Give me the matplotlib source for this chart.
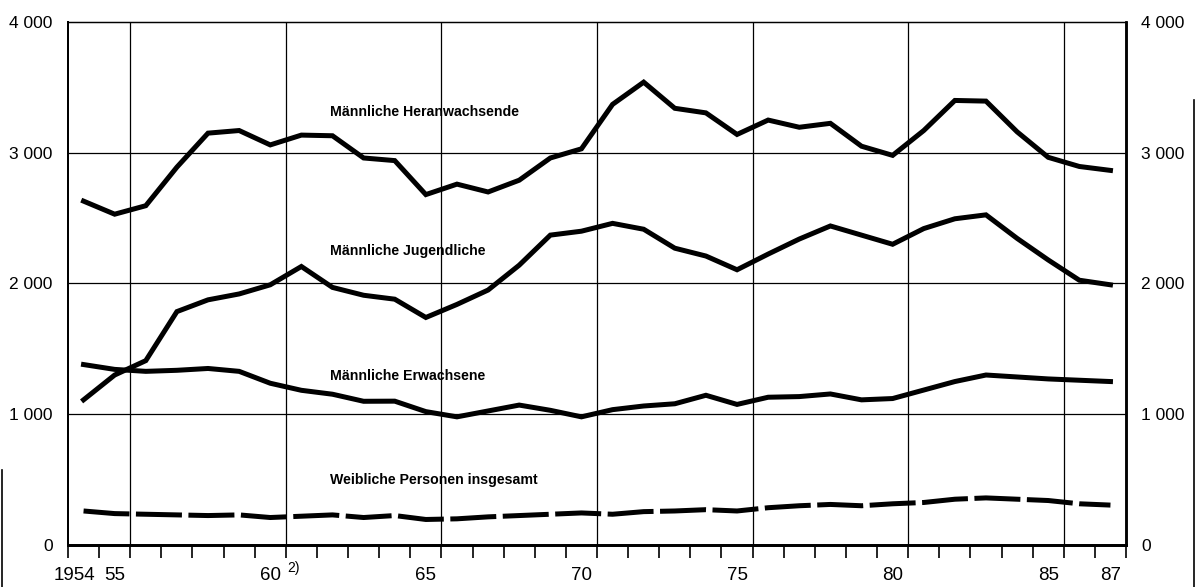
import numpy as np
import matplotlib
matplotlib.use('Agg')
import matplotlib.pyplot as plt
from matplotlib.lines import Line2D
from matplotlib.transforms import ScaledTranslation

years = np.arange(1954, 1988)

# Männliche Heranwachsende
heranwachsende = [2630, 2530, 2595, 2890, 3150, 3170, 3060, 3135, 3130, 2960,
                  2940, 2680, 2760, 2700, 2790, 2960, 3030, 3370, 3540, 3340,
                  3305, 3140, 3250, 3195, 3225, 3050, 2980, 3170, 3400, 3395,
                  3160, 2965, 2895, 2865]
# Männliche Jugendliche
jugendliche = [1110, 1300, 1410, 1785, 1875, 1920, 1990, 2130, 1970, 1910,
               1880, 1740, 1840, 1950, 2140, 2370, 2400, 2460, 2415, 2270,
               2210, 2105, 2225, 2340, 2440, 2370, 2300, 2420, 2495, 2525,
               2345, 2180, 2025, 1990]
# Männliche Erwachsene
erwachsene = [1380, 1343, 1328, 1336, 1350, 1328, 1237, 1183, 1153, 1099,
              1100, 1020, 980, 1025, 1070, 1030, 980, 1035, 1063, 1080,
              1145, 1075, 1130, 1135, 1155, 1110, 1120, 1185, 1250, 1300,
              1285, 1270, 1260, 1250]
# Weibliche Personen insgesamt
weibliche = [260, 240, 235, 230, 225, 230, 210, 220, 230, 210,
             225, 195, 200, 215, 225, 235, 245, 235, 255, 260,
             270, 260, 285, 300, 310, 300, 315, 325, 350, 360,
             350, 340, 315, 305]

series_names = ["Männliche Heranwachsende", "Männliche Jugendliche",
                "Männliche Erwachsene", "Weibliche Personen insgesamt"]
label_y = [3310, 2245, 1290, 495]

year_labels = ["1954", "55", "60", "65", "70", "75", "80", "85", "87"]
labelled_years = [1954, 1955, 1960, 1965, 1970, 1975, 1980, 1985, 1987]
grid_years = [1956, 1961, 1966, 1971, 1976, 1981, 1986]
y_ticks = [0, 1000, 2000, 3000, 4000]
y_labels = ["0", "1 000", "2 000", "3 000", "4 000"]

plt.rcParams['font.family'] = ['Liberation Sans', 'DejaVu Sans']

fig = plt.figure(figsize=(11.97, 5.87), dpi=100)
ax = fig.add_axes([0.0568, 0.0716, 0.8839, 0.8909])

x = years + 0.5
lw = 3.6
ax.plot(x, heranwachsende, color='black', lw=lw, solid_joinstyle='miter', zorder=3)
ax.plot(x, jugendliche, color='black', lw=lw, solid_joinstyle='miter', zorder=3)
ax.plot(x, erwachsene, color='black', lw=lw, solid_joinstyle='miter', zorder=3)
ax.plot(x, weibliche, color='black', lw=lw, dashes=(9.2, 1.3), zorder=3)

ax.set_xlim(1954, 1988)
ax.set_ylim(0, 4000)

# grid
for g in grid_years:
    ax.axvline(g, color='black', lw=0.9, zorder=1)
for v in y_ticks[1:-1]:
    ax.axhline(v, color='black', lw=0.9, zorder=1)

# x ticks: every year boundary, labels centred in year
ax.set_xticks(np.arange(1954, 1989))
ax.set_xticklabels([])
ax.tick_params(axis='x', which='major', direction='out', length=9, width=1.2)
ax.set_xticks([y + 0.5 for y in labelled_years], minor=True)
ax.set_xticklabels(year_labels, minor=True, fontsize=13.5)
ax.tick_params(axis='x', which='minor', length=0, pad=16)
first = ax.get_xticklabels(minor=True)[0]
first.set_transform(first.get_transform() + ScaledTranslation(-0.09, 0, fig.dpi_scale_trans))
ax.text(1961.05, -125, "2)", fontsize=10, va='top', ha='left',
        transform=ax.transData, clip_on=False)

ax.set_yticks(y_ticks)
ax.set_yticklabels(y_labels, fontsize=12.5)
ax.tick_params(axis='y', length=0, pad=11)

ax2 = ax.twinx()
ax2.set_ylim(0, 4000)
ax2.set_yticks(y_ticks)
ax2.set_yticklabels(y_labels, fontsize=12.5)
ax2.tick_params(axis='y', length=0, pad=11)

for a in (ax, ax2):
    a.spines['top'].set_linewidth(0.9)
    a.spines['left'].set_linewidth(1.4)
    a.spines['right'].set_linewidth(1.8)
    a.spines['bottom'].set_linewidth(2.0)

for name, ly in zip(series_names, label_y):
    ax.text(1962.42, ly, name, fontsize=10.2, fontweight='bold', va='center',
            ha='left', zorder=4)

# scan border lines
fig.add_artist(Line2D([0.9975, 0.9975], [0.0, 0.83], color='black', lw=1.2,
                      transform=fig.transFigure))
fig.add_artist(Line2D([0.0015, 0.0015], [0.0, 0.2], color='black', lw=1.2,
                      transform=fig.transFigure))

fig.savefig("out.png", dpi=100)
